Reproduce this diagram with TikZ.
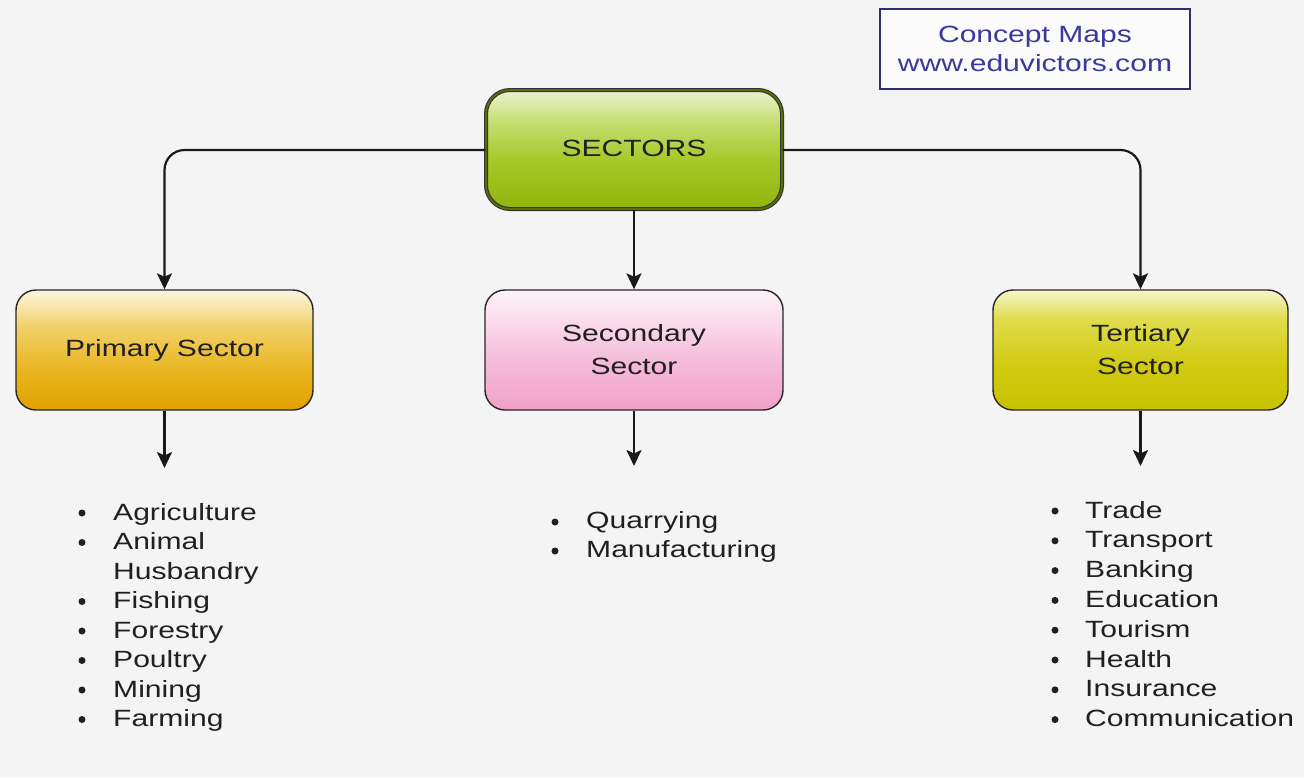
\documentclass[tikz,border=0pt]{standalone}
\usepackage{fontspec}
\setmainfont{Liberation Sans}
\usetikzlibrary{arrows.meta,shapes.misc}
\definecolor{bg}{HTML}{F4F4F4}
\definecolor{txt}{HTML}{202020}
\definecolor{cmblue}{HTML}{3A3A9C}
\definecolor{cmframe}{HTML}{2E2E6E}
\definecolor{rA}{HTML}{94B50D}\definecolor{rB}{HTML}{A6C726}
\definecolor{rC}{HTML}{C7DE73}\definecolor{rD}{HTML}{EBF2D1}
\definecolor{pA}{HTML}{E0A100}\definecolor{pB}{HTML}{E8B31A}
\definecolor{pC}{HTML}{F2D16B}\definecolor{pD}{HTML}{FCF5E0}
\definecolor{sA}{HTML}{F0A1C7}\definecolor{sB}{HTML}{F5BBD8}
\definecolor{sC}{HTML}{FADBEB}\definecolor{sD}{HTML}{FDF3F8}
\definecolor{tA}{HTML}{C7C200}\definecolor{tB}{HTML}{D1CC14}
\definecolor{tC}{HTML}{E0DC4D}\definecolor{tD}{HTML}{F5F5CC}
\pgfdeclareverticalshading{rootsh}{100bp}{color(0bp)=(rA); color(25bp)=(rA);
  color(45bp)=(rB); color(62bp)=(rC); color(75bp)=(rD); color(100bp)=(rD)}
\pgfdeclareverticalshading{prish}{100bp}{color(0bp)=(pA); color(25bp)=(pA);
  color(40bp)=(pB); color(60bp)=(pC); color(75bp)=(pD); color(100bp)=(pD)}
\pgfdeclareverticalshading{secsh}{100bp}{color(0bp)=(sA); color(25bp)=(sA);
  color(45bp)=(sB); color(62bp)=(sC); color(75bp)=(sD); color(100bp)=(sD)}
\pgfdeclareverticalshading{tersh}{100bp}{color(0bp)=(tA); color(25bp)=(tA);
  color(45bp)=(tB); color(63bp)=(tC); color(75bp)=(tD); color(100bp)=(tD)}
\newcommand{\wide}[1]{\scalebox{1.28}[1]{#1}}
\tikzset{
  box/.style={rounded corners=20pt, draw=black!85, line width=1.4pt,
    minimum height=120pt, inner sep=0pt, align=center, text=txt,
    font=\fontsize{23.5}{30}\selectfont},
  link/.style={draw=black!90, line width=2.2pt, rounded corners=20pt,
    -{Stealth[length=16pt,width=15pt,inset=3.5pt]}},
  item/.style={anchor=base west, inner sep=0pt, text=txt,
    font=\fontsize{23.5}{30}\selectfont},
  dot/.style={circle, fill=txt, inner sep=0pt, minimum size=7pt}
}
\begin{document}
\begin{tikzpicture}[x=1pt,y=-1pt]
\fill[bg] (0,0) rectangle (1304,777);
\useasboundingbox (0,0) rectangle (1304,777);

% Concept Maps label
\node[draw=cmframe, line width=1.8pt, minimum width=310pt, minimum height=80pt,
  inner sep=0pt, align=center, text=cmblue, fill=white!60!bg,
  font=\fontsize{23.5}{29}\selectfont] (cm) at (1035,49)
  {\wide{Concept Maps}\\\wide{www.eduvictors.com}};

% Root
\node[box, rounded corners=24pt, minimum width=296pt, minimum height=119pt,
  draw=black!80, double=black!40!rA, double distance=1.8pt, line width=1.1pt,
  shading=rootsh] (root) at (634,149.5)
  {\raisebox{3pt}{\wide{SECTORS}}};

% Sector boxes
\node[box, minimum width=297pt, shading=prish]
  (pri) at (164.5,350) {\raisebox{4pt}{\wide{Primary Sector}}};
\node[box, minimum width=298pt, shading=secsh]
  (sec) at (634,350) {\raisebox{4pt}{\wide{Secondary}}\\[-1pt]\wide{Sector}};
\node[box, minimum width=295pt, shading=tersh]
  (ter) at (1140.5,350) {\raisebox{4pt}{\wide{Tertiary}}\\[-1pt]\wide{Sector}};

% Connectors from root
\draw[link] (root.west |- 0,150) -| (pri.north);
\draw[link] (root.east |- 0,150) -| (ter.north);
\draw[link] (root.south) -- (sec.north);

% Arrows below boxes
\coordinate (pa) at (164.5,468);
\coordinate (sa) at (634,466);
\coordinate (ta) at (1140.5,466);
\draw[link] (pri.south) -- (pa);
\draw[link] (sec.south) -- (sa);
\draw[link] (ter.south) -- (ta);

% Primary list
\node[item] (p1) at (113,520) {\wide{Agriculture}};
\node[item] (p2) at (113,549.5) {\wide{Animal}};
\node[item] (p3) at (113,579) {\wide{Husbandry}};
\node[item] (p4) at (113,608.5) {\wide{Fishing}};
\node[item] (p5) at (113,638) {\wide{Forestry}};
\node[item] (p6) at (113,667.5) {\wide{Poultry}};
\node[item] (p7) at (113,697) {\wide{Mining}};
\node[item] (p8) at (113,726.5) {\wide{Farming}};
\foreach \y in {513,542.5,601.5,631,660.5,690,719.5}
  \node[dot] at (82,\y) {};

% Secondary list
\node[item] (s1) at (586,528) {\wide{Quarrying}};
\node[item] (s2) at (586,557) {\wide{Manufacturing}};
\foreach \y in {522,551}
  \node[dot] at (555,\y) {};

% Tertiary list
\node[item] (t1) at (1085,518) {\wide{Trade}};
\node[item] (t2) at (1085,547.8) {\wide{Transport}};
\node[item] (t3) at (1085,577.6) {\wide{Banking}};
\node[item] (t4) at (1085,607.4) {\wide{Education}};
\node[item] (t5) at (1085,637.2) {\wide{Tourism}};
\node[item] (t6) at (1085,667) {\wide{Health}};
\node[item] (t7) at (1085,696.8) {\wide{Insurance}};
\node[item] (t8) at (1085,726.6) {\wide{Communication}};
\foreach \y in {511,540.8,570.6,600.4,630.2,660,689.8,719.6}
  \node[dot] at (1055,\y) {};
\end{tikzpicture}
\end{document}
